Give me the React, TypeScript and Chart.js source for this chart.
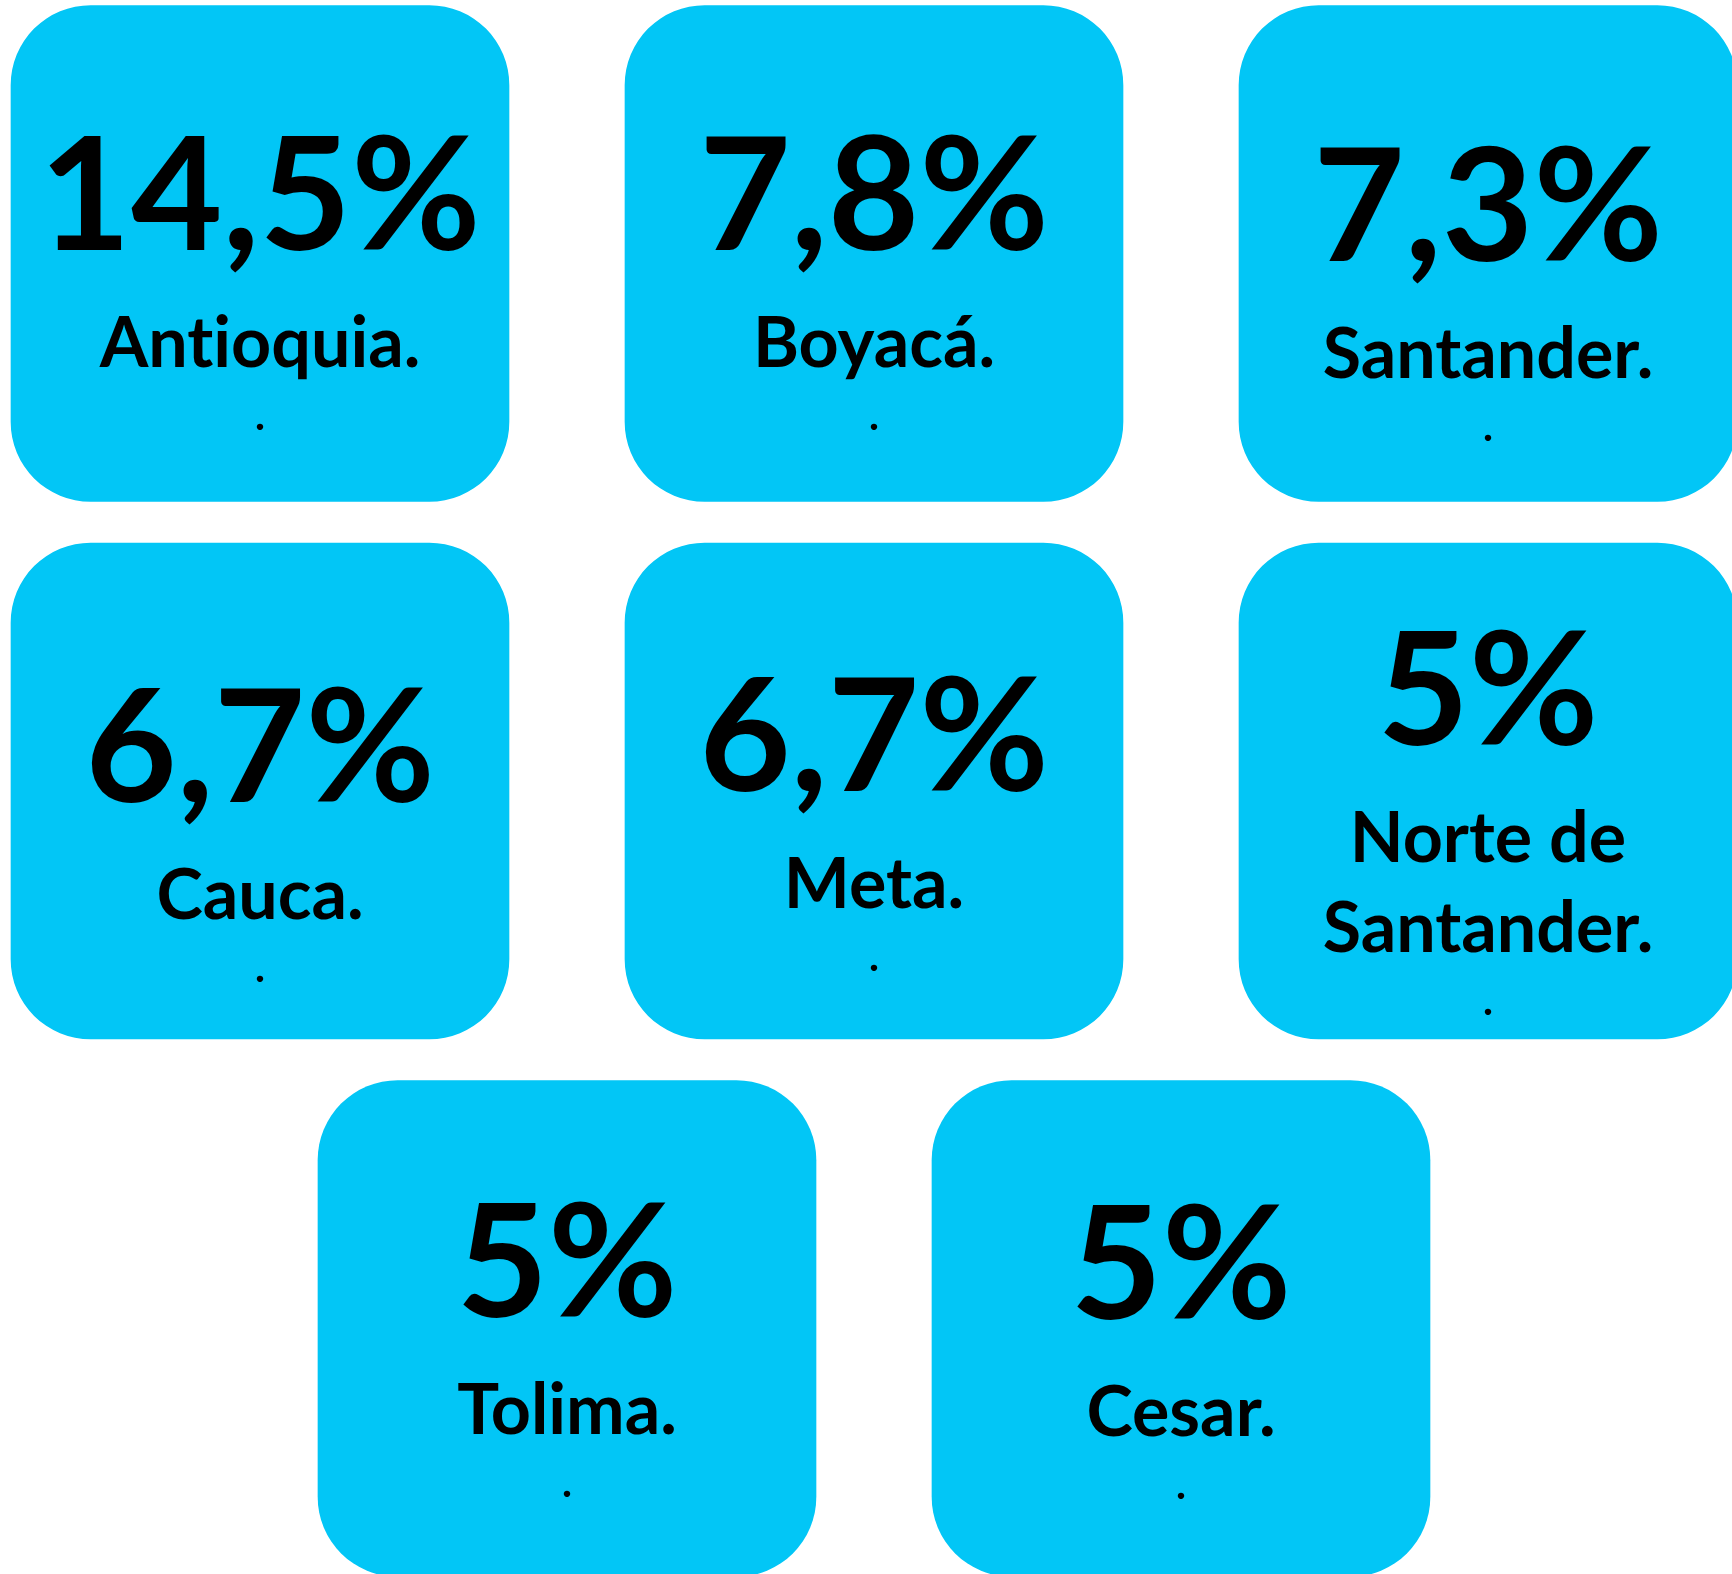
import { useEffect, useRef } from "react";
import { Chart, registerables } from "chart.js";

Chart.register(...registerables);

// ---- data ----
const departamentos: string[] = [
  "Antioquia.",
  "Boyacá.",
  "Santander.",
  "Cauca.",
  "Meta.",
  "Norte de\nSantander.",
  "Tolima.",
  "Cesar.",
];
const porcentajes: number[] = [14.5, 7.8, 7.3, 6.7, 6.7, 5, 5, 5];
const notas: string[] = [".", ".", ".", ".", ".", ".", ".", "."];

// ---- style ----
const W = 1732;
const H = 1574;
const COLOR = "#02C6F6";
const FONT = "Lato, 'Open Sans', sans-serif";
const HALF_H = 0.4614; // half box height in row units
const TEXT_SHIFT = [0, 0, 11, 14, 3, 2, -9, -7];

function slot(i: number) {
  if (i < 6) return { col: i % 3, row: Math.floor(i / 3) };
  return { col: i - 6 + 0.5, row: 2 };
}

const fmt = (v: number) => String(v).replace(".", ",") + "%";

const textPlugin = {
  id: "boxText",
  afterDatasetsDraw(chart: any) {
    const ctx = chart.ctx;
    const meta = chart.getDatasetMeta(0);
    ctx.save();
    ctx.fillStyle = "#000";
    ctx.textAlign = "center";
    ctx.textBaseline = "alphabetic";
    try {
      ctx.textRendering = "optimizeSpeed";
    } catch (e) {}
    meta.data.forEach((el: any, i: number) => {
      const { x, y, base } = el.getProps(["x", "y", "base"], true);
      const cy = (y + base) / 2;
      const lines = departamentos[i].split("\n");
      const n = lines.length;
      const p = cy - 3 - 44.75 * (n - 1) + TEXT_SHIFT[i];
      ctx.font = `700 158px ${FONT}`;
      ctx.fillText(fmt(porcentajes[i]), x, p);
      ctx.font = `700 70px ${FONT}`;
      lines.forEach((l, j) => ctx.fillText(l, x, p + 117 + 89.5 * j));
      ctx.font = `700 42px ${FONT}`;
      ctx.fillText(notas[i], x, p + 117 + 89.5 * (n - 1) + 63);
    });
    ctx.restore();
  },
};

export default function App() {
  const ref = useRef<HTMLCanvasElement | null>(null);

  useEffect(() => {
    document.body.style.margin = "0";
    document.body.style.overflow = "hidden";
    const canvas = ref.current!;
    const data = porcentajes.map((_, i) => {
      const s = slot(i);
      return { x: s.col, y: [s.row - HALF_H, s.row + HALF_H] };
    });
    const chart = new Chart(canvas, {
      type: "bar",
      data: {
        datasets: [
          {
            data: data as any,
            backgroundColor: COLOR,
            borderWidth: 0,
            borderRadius: 80,
            borderSkipped: false,
            barThickness: 498,
          } as any,
        ],
      },
      options: {
        animation: false,
        responsive: false,
        devicePixelRatio: 1,
        layout: { padding: 0 },
        plugins: {
          legend: { display: false },
          tooltip: { enabled: false },
        },
        scales: {
          x: { type: "linear", min: -0.42345, max: 2.3974, offset: false, display: false },
          y: { type: "linear", min: -0.4716, max: 2.4567, reverse: true, display: false },
        },
      },
      plugins: [textPlugin],
    });
    if ((document as any).fonts) {
      (document as any).fonts
        .load(`700 158px Lato`)
        .then(() => chart.update())
        .catch(() => {});
    }
    return () => chart.destroy();
  }, []);

  return (
    <div style={{ width: W, height: H, position: "relative" }}>
      <canvas ref={ref} width={W} height={H} style={{ width: W, height: H, display: "block" }} />
    </div>
  );
}
